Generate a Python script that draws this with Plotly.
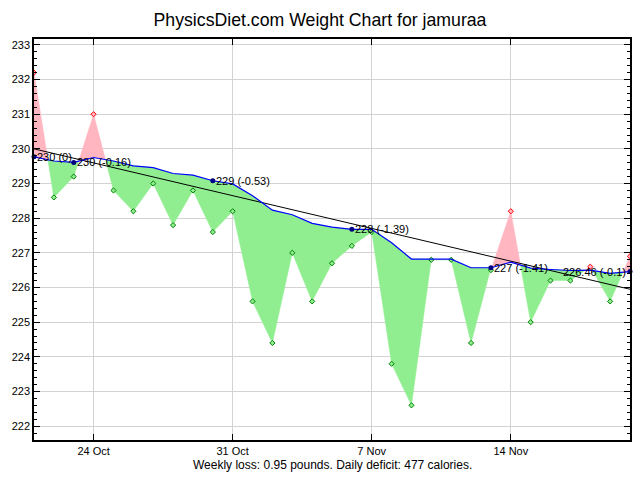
import datetime as dt
import plotly.graph_objects as go

# ---------------- data ----------------
start_date = "2007-10-21"
weights = [232.2, 228.6, 229.2, 231.0, 228.8, 228.2, 229.0, 227.8, 228.8, 227.6,
           228.2, 225.6, 224.4, 227.0, 225.6, 226.7, 227.2, 227.6, 223.8, 222.6,
           226.8, 226.8, 224.4, 226.5, 228.2, 225.0, 226.2, 226.2, 226.6, 225.6,
           226.9]
trend = [229.77, 229.65, 229.61, 229.75, 229.65, 229.51, 229.46, 229.29, 229.24, 229.08,
         228.99, 228.65, 228.23, 228.10, 227.85, 227.74, 227.68, 227.68, 227.29, 226.82,
         226.82, 226.82, 226.57, 226.57, 226.73, 226.56, 226.52, 226.49, 226.50, 226.41,
         226.46]
label_days = [0, 2, 9, 16, 23, 30]
label_texts = ["230 (0)", "230 (-0.16)", "229 (-0.53)", "228 (-1.39)", "227 (-1.41)", "226.46 (-0.1)"]
regression = [230.0, 225.95]          # fitted line at first and last day
week_tick0 = "2007-10-24"
title_text = "PhysicsDiet.com Weight Chart for jamuraa"
subtitle_text = "Weekly loss: 0.95 pounds. Daily deficit: 477 calories."

# ---------------- build ----------------
t0 = dt.datetime.fromisoformat(start_date)
def day(d):
    return t0 + dt.timedelta(days=d)

n = len(weights)
dates = [day(i) for i in range(n)]

green_x, green_y, pink_x, pink_y = [], [], [], []
def add_poly(pts, positive):
    xs = [day(p[0]) for p in pts] + [day(pts[0][0]), None]
    ys = [p[1] for p in pts] + [pts[0][1], None]
    if positive:
        pink_x.extend(xs); pink_y.extend(ys)
    else:
        green_x.extend(xs); green_y.extend(ys)

for i in range(n - 1):
    d0 = weights[i] - trend[i]
    d1 = weights[i + 1] - trend[i + 1]
    if d0 * d1 >= 0:
        add_poly([(i, weights[i]), (i + 1, weights[i + 1]), (i + 1, trend[i + 1]), (i, trend[i])],
                 (d0 + d1) > 0)
    else:
        f = d0 / (d0 - d1)
        xc = i + f
        yc = weights[i] + f * (weights[i + 1] - weights[i])
        add_poly([(i, weights[i]), (xc, yc), (i, trend[i])], d0 > 0)
        add_poly([(xc, yc), (i + 1, weights[i + 1]), (i + 1, trend[i + 1])], d1 > 0)

fig = go.Figure()
fig.add_trace(go.Scatter(x=green_x, y=green_y, fill="toself", mode="lines",
                         fillcolor="#90EE90", line=dict(color="#90EE90", width=0.5),
                         hoverinfo="skip", showlegend=False))
fig.add_trace(go.Scatter(x=pink_x, y=pink_y, fill="toself", mode="lines",
                         fillcolor="#FFB6C1", line=dict(color="#FFB6C1", width=0.5),
                         hoverinfo="skip", showlegend=False))

# regression line
fig.add_trace(go.Scatter(x=[dates[0], dates[-1]], y=regression, mode="lines",
                         line=dict(color="black", width=1), showlegend=False))

# daily markers
above = [w > t for w, t in zip(weights, trend)]
fig.add_trace(go.Scatter(x=[d for d, a in zip(dates, above) if not a],
                         y=[w for w, a in zip(weights, above) if not a],
                         mode="markers",
                         marker=dict(symbol="diamond", size=4, color="#90EE90",
                                     line=dict(color="#008000", width=1)),
                         showlegend=False))
fig.add_trace(go.Scatter(x=[d for d, a in zip(dates, above) if a],
                         y=[w for w, a in zip(weights, above) if a],
                         mode="markers",
                         marker=dict(symbol="diamond", size=4, color="#FFB6C1",
                                     line=dict(color="#FF0000", width=1)),
                         showlegend=False))

# trend line
fig.add_trace(go.Scatter(x=dates, y=trend, mode="lines",
                         line=dict(color="#0000FF", width=1.2), showlegend=False))
# weekly trend points
fig.add_trace(go.Scatter(x=[dates[i] for i in label_days], y=[trend[i] for i in label_days],
                         mode="markers", marker=dict(color="#000080", size=5),
                         showlegend=False, cliponaxis=False))

font_family = "Liberation Sans, Arial, sans-serif"
for k, (i, txt) in enumerate(zip(label_days, label_texts)):
    last = (k == len(label_days) - 1)
    fig.add_annotation(x=dates[i], y=trend[i], text=txt, showarrow=False,
                       xanchor="right" if last else "left", yanchor="middle",
                       xshift=-2 if last else 1,
                       font=dict(family=font_family, size=11, color="black"))

fig.add_annotation(x=0.5, y=-0.062, xref="paper", yref="paper", text=subtitle_text,
                   showarrow=False, xanchor="center", yanchor="middle",
                   font=dict(family=font_family, size=12, color="black"))

fig.update_layout(
    width=640, height=480,
    margin=dict(l=34, r=10, t=39, b=40, autoexpand=False),
    paper_bgcolor="white", plot_bgcolor="white",
    font=dict(family=font_family, size=11, color="black"),
    title=dict(text=title_text, x=0.5, xanchor="center", y=1 - 20 / 480, yref="container",
               yanchor="middle", font=dict(family=font_family, size=17.7, color="black")),
    showlegend=False,
)
fig.update_xaxes(type="date", range=[dates[0], dates[-1]], automargin=False,
                 tick0=week_tick0, dtick=7 * 86400000, tickformat="%-d %b",
                 ticks="inside", ticklen=6, tickcolor="black", mirror="allticks",
                 showline=True, linecolor="black", linewidth=1.5,
                 showgrid=True, gridcolor="#d3d3d3", gridwidth=1, zeroline=False,
                 tickfont=dict(size=11))
fig.update_yaxes(range=[221.6, 233.17], dtick=1, tick0=0, automargin=False,
                 ticks="inside", ticklen=6, tickcolor="black", mirror="allticks",
                 showline=True, linecolor="black", linewidth=1.5,
                 showgrid=True, gridcolor="#d3d3d3", gridwidth=1, zeroline=False,
                 tickfont=dict(size=11),
                 minor=dict(dtick=0.2, ticks="inside", ticklen=3, tickcolor="black", showgrid=False))

fig.write_html("out.html", config={"displayModeBar": False},
               post_script="document.body.style.margin='0';document.body.style.padding='0';")
